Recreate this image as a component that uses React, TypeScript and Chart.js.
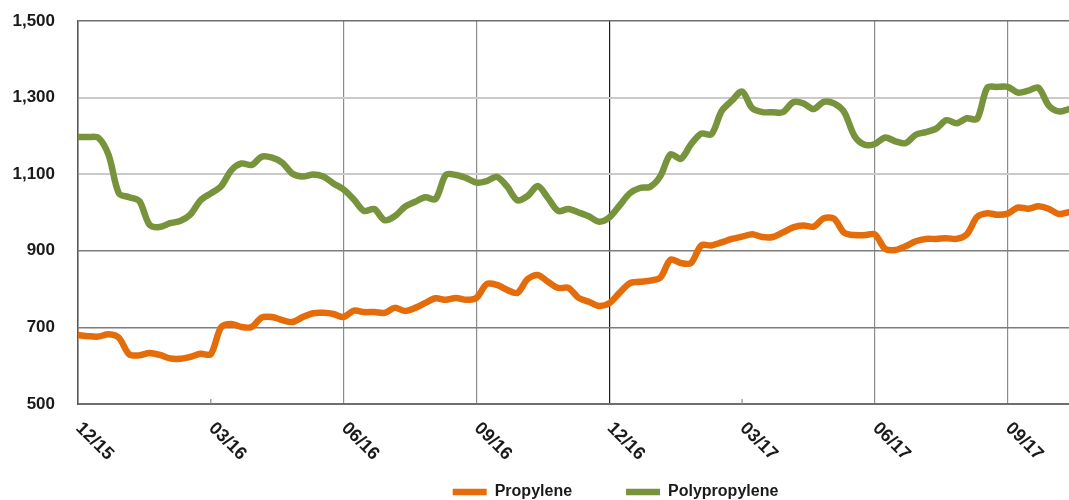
import React, { useEffect, useRef } from "react";
import { Chart, registerables } from "chart.js";

Chart.register(...registerables);

// Weekly prices, Dec 2015 – Nov 2017
const propylene: number[] = [
  680, 677, 676, 682, 673, 630, 627, 633, 628, 619,
  618, 623, 631, 630, 700, 709, 701, 701, 726, 727,
  719, 714, 727, 737, 738, 735, 727, 744, 740, 740,
  738, 751, 743, 751, 764, 776, 772, 777, 772, 777,
  813, 811, 798, 790, 826, 837, 819, 803, 803, 777,
  767, 756, 763, 790, 815, 819, 822, 830, 877, 868,
  868, 914, 914, 922, 931, 937, 943, 936, 936, 948,
  961, 966, 963, 985, 984, 947, 941, 941, 943, 905,
  902, 912, 925, 931, 931, 933, 931, 943, 988, 998,
  994, 997, 1013, 1010, 1016, 1010, 996, 1001,
];

const polypropylene: number[] = [
  1197, 1197, 1195, 1150, 1050, 1040, 1030, 968, 962, 972,
  978, 995, 1032, 1050, 1068, 1110, 1128, 1124, 1146, 1143,
  1130, 1101, 1094, 1099, 1094, 1076, 1060, 1034, 1004, 1009,
  980, 990, 1015, 1028, 1040, 1035, 1098, 1098, 1090, 1078,
  1082, 1093, 1068, 1032, 1043, 1069, 1038, 1004, 1009, 1000,
  990, 976, 987, 1018, 1050, 1064, 1067, 1095, 1152, 1140,
  1178, 1206, 1204, 1265, 1292, 1316, 1272, 1262, 1262, 1262,
  1288, 1285, 1270, 1289, 1285, 1262, 1200, 1177, 1179, 1196,
  1186, 1181, 1203, 1210, 1219, 1241, 1233, 1246, 1244, 1326,
  1328, 1328, 1313, 1318, 1326, 1280, 1264, 1270,
];

const quarterWeeks: number[] = [0, 13, 26, 39, 52, 65, 78, 91];
const quarterLabels: string[] = ["12/15", "03/16", "06/16", "09/16", "12/16", "03/17", "06/17", "09/17"];
const yTicks: number[] = [500, 700, 900, 1100, 1300, 1500];
const seriesNames: string[] = ["Propylene", "Polypropylene"];

const FONT = '"Liberation Sans", Arial, sans-serif';

const xLabelPlugin = {
  id: "xLabelPlugin",
  afterLayout(chart: any) {
    const lg = chart.legend;
    if (lg) {
      lg.left += 81;
      lg.right += 81;
    }
  },
  afterDraw(chart: any) {
    const { ctx, chartArea } = chart;
    const x = chart.scales.x;
    ctx.save();
    // small inner tick marks where no gridline is drawn
    ctx.strokeStyle = "#8c8c8c";
    ctx.lineWidth = 1.2;
    [13, 65].forEach((w) => {
      const px = x.getPixelForValue(w);
      ctx.beginPath();
      ctx.moveTo(px, chartArea.bottom - 5);
      ctx.lineTo(px, chartArea.bottom);
      ctx.stroke();
    });
    ctx.font = `bold 18px ${FONT}`;
    ctx.fillStyle = "#1a1a1a";
    ctx.textAlign = "left";
    ctx.textBaseline = "top";
    quarterWeeks.forEach((w, i) => {
      const px = x.getPixelForValue(w);
      ctx.save();
      ctx.translate(px + 7, chartArea.bottom + 15);
      ctx.rotate(Math.PI / 4);
      ctx.fillText(quarterLabels[i], 0, 0);
      ctx.restore();
    });
    ctx.restore();
  },
};

export default function App() {
  const ref = useRef<HTMLCanvasElement>(null);

  useEffect(() => {
    document.body.style.margin = "0";
    const canvas = ref.current;
    if (!canvas) return;
    const weeks = propylene.map((_, i) => i);
    const chart = new Chart(canvas, {
      type: "line",
      data: {
        datasets: [
          {
            label: seriesNames[0],
            data: weeks.map((w) => ({ x: w, y: propylene[w] })),
            borderColor: "#E46C0A",
            backgroundColor: "#E46C0A",
            borderWidth: 6.5,
            borderCapStyle: "round",
            borderJoinStyle: "round",
            pointRadius: 0,
            tension: 0.3,
          },
          {
            label: seriesNames[1],
            data: weeks.map((w) => ({ x: w, y: polypropylene[w] })),
            borderColor: "#77933C",
            backgroundColor: "#77933C",
            borderWidth: 6.5,
            borderCapStyle: "round",
            borderJoinStyle: "round",
            pointRadius: 0,
            tension: 0.3,
          },
        ],
      },
      options: {
        responsive: false,
        animation: false,
        layout: { padding: { top: 21, left: 0, right: 0, bottom: 0 } },
        scales: {
          x: {
            type: "linear",
            min: 0,
            max: weeks.length - 1,
            afterBuildTicks: (scale: any) => {
              scale.ticks = quarterWeeks.map((v) => ({ value: v }));
            },
            afterFit: (scale: any) => {
              scale.height = 26;
            },
            ticks: { display: false },
            grid: {
              drawTicks: false,
              lineWidth: 1.2,
              color: (c: any) => {
                const v = c.tick ? c.tick.value : -1;
                if (v === 13 || v === 65) return "rgba(0,0,0,0)";
                if (v === 52) return "#1e1e1e";
                if (v === 0) return "#595959";
                return "#8c8c8c";
              },
            },
            border: { color: "#6e6e6e", width: 2 },
          },
          y: {
            min: 500,
            max: 1500,
            afterBuildTicks: (scale: any) => {
              scale.ticks = yTicks.map((v) => ({ value: v }));
            },
            afterFit: (scale: any) => {
              scale.width = 78;
              scale.paddingTop = 0;
              scale.paddingBottom = 0;
            },
            ticks: {
              padding: 23,
              color: "#1a1a1a",
              font: { family: FONT, size: 17, weight: "bold" },
              callback: (v: any) => Number(v).toLocaleString("en-US"),
            },
            grid: {
              drawTicks: false,
              lineWidth: (c: any) => {
                const v = c.tick ? c.tick.value : 0;
                return v === 1300 || v === 1100 ? 2 : 1.5;
              },
              color: (c: any) => {
                const v = c.tick ? c.tick.value : 0;
                if (v === 1300 || v === 1100) return "#cacaca";
                if (v === 1500) return "#6e6e6e";
                return "#7d7d7d";
              },
            },
            border: { color: "#595959", width: 1.5 },
          },
        },
        plugins: {
          legend: {
            position: "bottom",
            labels: {
              usePointStyle: true,
              pointStyle: "line",
              pointStyleWidth: 34,
              padding: 54,
              color: "#1a1a1a",
              font: { family: FONT, size: 16, weight: "bold" },
            },
          },
          tooltip: { enabled: false },
        },
      },
      plugins: [xLabelPlugin],
    } as any);
    return () => chart.destroy();
  }, []);

  return (
    <div style={{ width: 1069, height: 500, overflow: "hidden" }}>
      <canvas ref={ref} width={1069} height={510} style={{ display: "block" }} />
    </div>
  );
}
